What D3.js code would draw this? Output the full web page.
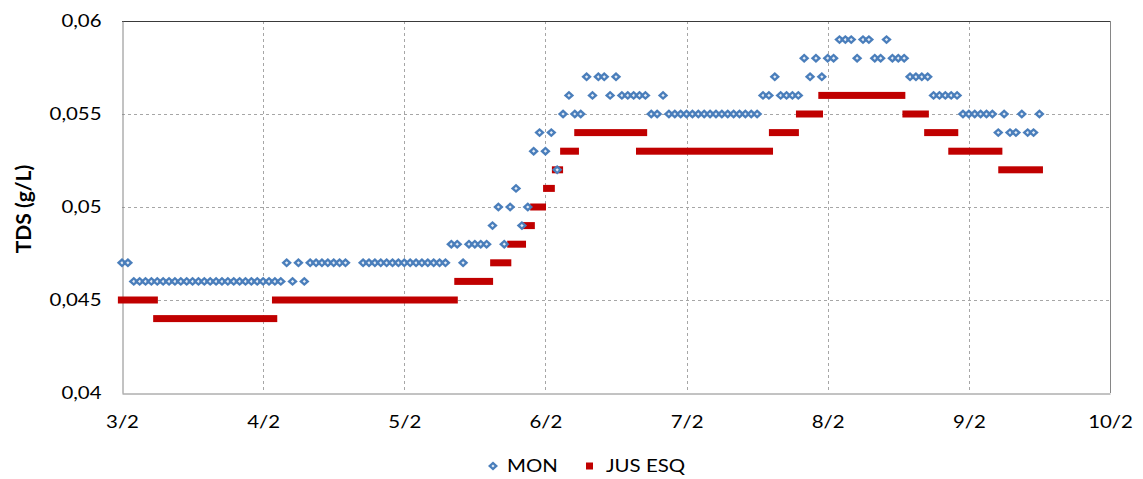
<!DOCTYPE html>
<html>
<head>
<meta charset="utf-8">
<script src="https://cdn.jsdelivr.net/npm/d3@7/dist/d3.min.js"></script>
<style>
  body { margin: 0; background: #ffffff; }
  text { font-family: Lato, "Open Sans", "Liberation Sans", sans-serif; fill: #000; }
</style>
</head>
<body>
<svg id="chart" width="1143" height="479"></svg>
<script>
// Sampling starts at 3 Feb, 00:00; MON readings are hourly (null = no reading)
const seriesStart = new Date(2010, 1, 3, 0, 0);
const xDomain = [new Date(2010, 1, 3), new Date(2010, 1, 10)];

const yTickValues = [0.04, 0.045, 0.05, 0.055, 0.06];
const yTickLabels = ["0,04", "0,045", "0,05", "0,055", "0,06"];

const seriesNames = ["MON", "JUS ESQ"];

// MON (upstream), one value per hour from 3/2 00:00
const monValues = [
  0.047, 0.047,
  0.046, 0.046, 0.046, 0.046, 0.046, 0.046, 0.046, 0.046, 0.046, 0.046,
  0.046, 0.046, 0.046, 0.046, 0.046, 0.046, 0.046, 0.046, 0.046, 0.046,
  0.046, 0.046, 0.046, 0.046, 0.046, 0.046,
  0.047, 0.046, 0.047, 0.046,
  0.047, 0.047, 0.047, 0.047, 0.047, 0.047, 0.047,
  null, null,
  0.047, 0.047, 0.047, 0.047, 0.047, 0.047, 0.047, 0.047, 0.047, 0.047,
  0.047, 0.047, 0.047, 0.047, 0.047,
  0.048, 0.048, 0.047, 0.048, 0.048, 0.048, 0.048,
  0.049, 0.050, 0.048, 0.050, 0.051, 0.049, 0.050, 0.053, 0.054, 0.053,
  0.054, 0.052, 0.055, 0.056, 0.055, 0.055, 0.057, 0.056, 0.057, 0.057,
  0.056, 0.057, 0.056, 0.056, 0.056, 0.056, 0.056, 0.055, 0.055, 0.056,
  0.055, 0.055, 0.055, 0.055, 0.055, 0.055, 0.055, 0.055, 0.055, 0.055,
  0.055, 0.055, 0.055, 0.055, 0.055, 0.055,
  0.056, 0.056, 0.057, 0.056, 0.056, 0.056, 0.056,
  0.058, 0.057, 0.058, 0.057, 0.058, 0.058, 0.059, 0.059, 0.059, 0.058,
  0.059, 0.059, 0.058, 0.058, 0.059, 0.058, 0.058, 0.058,
  0.057, 0.057, 0.057, 0.057,
  0.056, 0.056, 0.056, 0.056, 0.056,
  0.055, 0.055, 0.055, 0.055, 0.055, 0.055,
  0.054, 0.055, 0.054, 0.054, 0.055, 0.054, 0.054, 0.055
];

// JUS ESQ (downstream left bank): constant-value stretches, hours since 3/2 00:00
const jusFrom  = [-0.7, 5.3, 25.5, 56.5, 62.6, 65.5, 68.0, 69.4, 71.6, 73.1, 74.5, 76.9, 87.4, 110.0, 114.6, 118.4, 132.7, 136.4, 140.5, 149.0];
const jusTo    = [ 6.1, 26.4, 57.1, 63.1, 66.2, 68.7, 70.2, 72.1, 73.6, 75.0, 77.7, 89.3, 110.7, 115.1, 119.2, 133.2, 137.2, 142.2, 149.7, 156.6];
const jusValue = [0.045, 0.044, 0.045, 0.046, 0.047, 0.048, 0.049, 0.050, 0.051, 0.052, 0.053, 0.054, 0.053, 0.054, 0.055, 0.056, 0.055, 0.054, 0.053, 0.052];

const monColor = "#4A7EBB";
const monCenter = "#E4ECF6";
const jusColor = "#C00000";
const gridColor = "#A6A6A6";
const textStretch = 1.2;   // wide lettering of labels

const plot = { left: 122, top: 21, right: 1110, bottom: 393 };

const svg = d3.select("#chart");

const x = d3.scaleTime().domain(xDomain).range([plot.left, plot.right]);
const y = d3.scaleLinear().domain([0.04, 0.06]).range([plot.bottom, plot.top]);
const hourDate = h => new Date(seriesStart.getTime() + h * 3600e3);

const dayTicks = d3.timeDay.range(xDomain[0], d3.timeDay.offset(xDomain[1], 1));

// Gridlines
const grid = svg.append("g");
grid.selectAll("line.vg").data(dayTicks.slice(1, -1)).join("line")
  .attr("x1", d => Math.round(x(d)) + 0.5).attr("x2", d => Math.round(x(d)) + 0.5)
  .attr("y1", plot.top).attr("y2", plot.bottom)
  .attr("stroke", gridColor).attr("stroke-dasharray", "3,3").attr("stroke-width", 1);
grid.selectAll("line.hg").data(yTickValues.slice(1, -1)).join("line")
  .attr("x1", plot.left).attr("x2", plot.right)
  .attr("y1", d => Math.round(y(d)) + 0.5).attr("y2", d => Math.round(y(d)) + 0.5)
  .attr("stroke", gridColor).attr("stroke-dasharray", "3,3").attr("stroke-width", 1);

// Plot frame
svg.append("line").attr("x1", plot.left).attr("x2", plot.right)
  .attr("y1", plot.top + 0.5).attr("y2", plot.top + 0.5).attr("stroke", "#3A3A3A").attr("stroke-width", 1.2);
svg.append("line").attr("x1", plot.right + 0.5).attr("x2", plot.right + 0.5)
  .attr("y1", plot.top).attr("y2", plot.bottom).attr("stroke", "#868686");

// Axes
const yAxis = d3.axisLeft(y).tickValues(yTickValues)
  .tickFormat((d, i) => yTickLabels[i]).tickSize(0).tickPadding(0);
const gy = svg.append("g").attr("transform", `translate(${plot.left + 0.5},0)`).call(yAxis);
gy.select(".domain").attr("stroke", "#868686");
gy.selectAll(".tick text")
  .attr("x", null)
  .attr("font-size", 17).style("font-family", "Lato, 'Open Sans', sans-serif")
  .attr("transform", `translate(-21,0) scale(${textStretch},1)`);

const xAxis = d3.axisBottom(x).tickValues(dayTicks)
  .tickFormat(d3.timeFormat("%-d/%-m")).tickSize(0).tickPadding(22);
const gx = svg.append("g").attr("transform", `translate(0,${plot.bottom + 0.5})`).call(xAxis);
gx.select(".domain").attr("stroke", "#868686");
gx.selectAll(".tick text")
  .attr("font-size", 17).style("font-family", "Lato, 'Open Sans', sans-serif")
  .attr("transform", `scale(${textStretch},1)`);

// Y title
svg.append("text")
  .attr("transform", `translate(31,${(plot.top + plot.bottom) / 2 + 2}) rotate(-90)`)
  .attr("text-anchor", "middle")
  .attr("font-size", 21).attr("font-weight", "bold")
  .text("TDS (g/L)");

// JUS ESQ bars
const barH = 7;
svg.append("g").selectAll("rect").data(jusValue).join("rect")
  .attr("x", (d, i) => x(hourDate(jusFrom[i])))
  .attr("width", (d, i) => x(hourDate(jusTo[i])) - x(hourDate(jusFrom[i])))
  .attr("y", d => y(d) - barH / 2)
  .attr("height", barH)
  .attr("fill", jusColor);

// MON diamonds: solid marker with a pale centre
const diamond = (cx, cy, rx, ry) => `M${cx},${cy - ry}L${cx + rx},${cy}L${cx},${cy + ry}L${cx - rx},${cy}Z`;
const monPoints = monValues.map((v, i) => ({ t: hourDate(i), v })).filter(p => p.v !== null);
const mon = svg.append("g").selectAll("g").data(monPoints).join("g");
mon.append("path")
  .attr("d", p => diamond(x(p.t), y(p.v), 5.2, 4.7))
  .attr("fill", monColor);
mon.append("path")
  .attr("d", p => diamond(x(p.t), y(p.v), 1.7, 1.6))
  .attr("fill", monCenter);

// Legend
const legend = svg.append("g").attr("transform", "translate(0,466)");
legend.append("path").attr("d", diamond(493, 0, 5, 4.5)).attr("fill", monColor);
legend.append("path").attr("d", diamond(493, 0, 1.6, 1.5)).attr("fill", monCenter);
legend.append("text").attr("font-size", 17)
  .attr("transform", `translate(507,6) scale(${textStretch},1)`).text(seriesNames[0]);
legend.append("rect").attr("x", 586).attr("y", -3.5).attr("width", 7).attr("height", 7).attr("fill", jusColor);
legend.append("text").attr("font-size", 17)
  .attr("transform", `translate(606,6) scale(${textStretch},1)`).text(seriesNames[1]);
</script>
</body>
</html>
